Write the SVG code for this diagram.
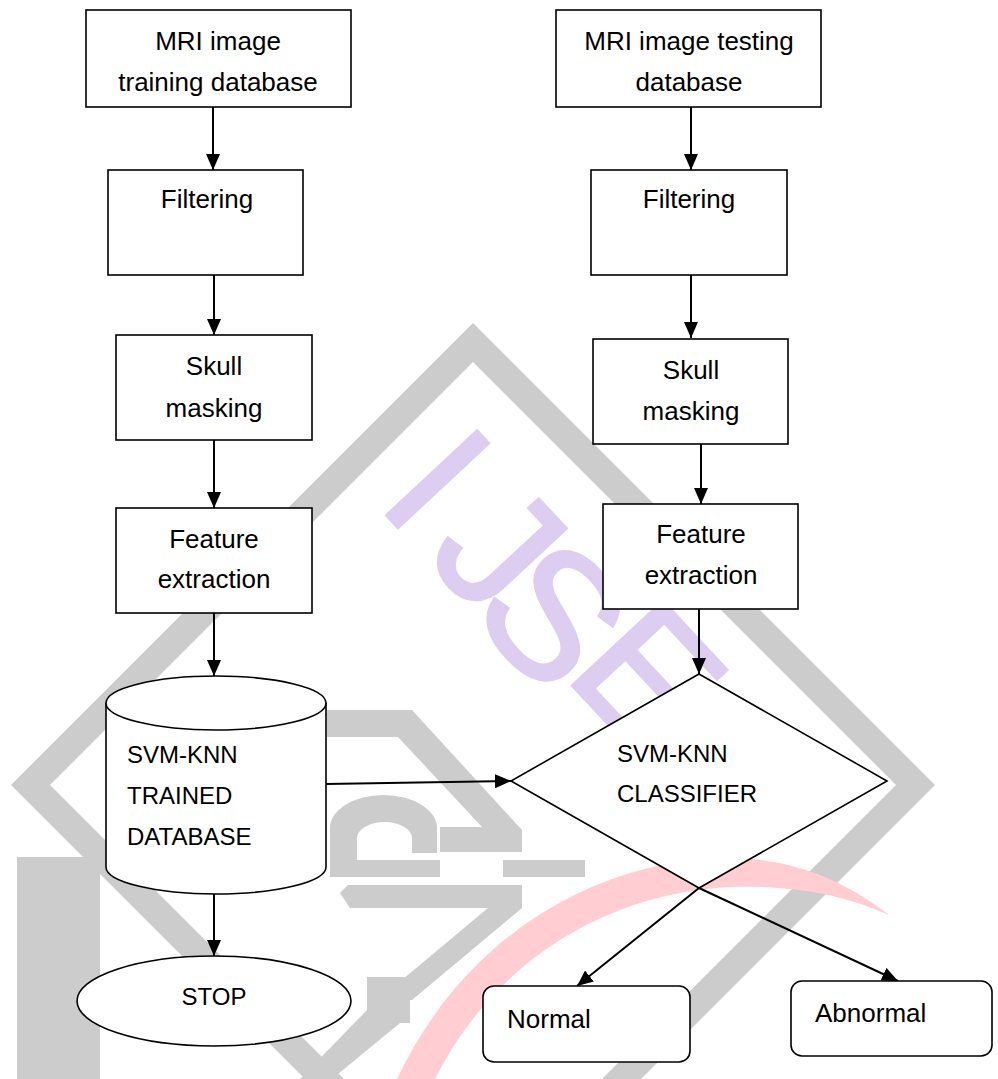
<svg xmlns="http://www.w3.org/2000/svg" width="998" height="1079" viewBox="0 0 998 1079">
<style>
.wg{fill:#cccccc;stroke:none}
.wp{fill:#ddcdf0;font-family:"Liberation Sans",Arial,sans-serif;font-size:180px;text-anchor:middle;stroke:#ddcdf0;stroke-width:3}
.box{fill:#ffffff;stroke:#000000;stroke-width:1.6}
.t{font-family:"Liberation Sans",Arial,sans-serif;font-size:26px;fill:#000000}
.tc{text-anchor:middle}
.u{font-size:24px}
.c{stroke:#000000;stroke-width:2;fill:none;marker-end:url(#ah)}
</style>
<defs>
<marker id="ah" markerUnits="userSpaceOnUse" markerWidth="16" markerHeight="14" refX="16" refY="7" orient="auto">
<path d="M0,0 L16,7 L0,14 Z" fill="#000000"/>
</marker>
</defs>
<rect x="0" y="0" width="998" height="1079" fill="#ffffff"/>
<g id="watermark">
<path class="wg" fill-rule="evenodd" d="M473,323 L935,785 L473,1247 L11,785 Z M473,362 L896,785 L473,1208 L50,785 Z"/>
<polygon class="wg" points="327,710 412,710 522,830 522,852 440,852 440,827 482,827 398,737 327,737"/>
<path class="wg" d="M330,860 L330,828 A53.5,33 0 0 1 437,828 L437,853 L412,853 L412,838 A27.5,16 0 0 0 357,838 L357,860 Z"/>
<rect class="wg" x="330" y="860" width="110" height="17"/>
<rect class="wg" x="503" y="860" width="82" height="17"/>
<polygon class="wg" points="340,893 348,885 522,885 522,908 350,908"/>
<polygon class="wg" points="488,908 522,908 412,1000 378,1000"/>
<rect class="wg" x="367" y="977" width="43" height="46"/>
<polygon class="wg" points="367,1010 400,1023 332,1079 300,1079"/>
<rect class="wg" x="17" y="857" width="83" height="222"/>
<path fill="#ffcdd2" d="M397,1079 C470,925 610,858 730,858 C800,859 850,885 889,915 C840,893 790,885 730,887 C620,892 500,950 435,1079 Z"/>
<text class="wp" transform="translate(439,478) rotate(47)" y="64">I</text>
<text class="wp" transform="translate(501,546) rotate(47)" y="64">J</text>
<text class="wp" transform="translate(555,613) rotate(47)" y="64">S</text>
<text class="wp" transform="translate(650,675) rotate(47)" y="64">E</text>
</g>
<g id="connectors">
<line class="c" x1="213" y1="107" x2="213" y2="170"/>
<line class="c" x1="691" y1="107" x2="691" y2="170"/>
<line class="c" x1="214" y1="275" x2="214" y2="335"/>
<line class="c" x1="691" y1="275" x2="691" y2="338"/>
<line class="c" x1="214" y1="440" x2="214" y2="508"/>
<line class="c" x1="701" y1="444" x2="701" y2="504"/>
<line class="c" x1="214" y1="613" x2="214" y2="676"/>
<line class="c" x1="699" y1="609" x2="699" y2="674"/>
<line class="c" x1="326" y1="784" x2="511" y2="781"/>
<line class="c" x1="214" y1="894" x2="214" y2="956"/>
<line class="c" x1="699" y1="888" x2="577" y2="986"/>
<line class="c" x1="699" y1="888" x2="898" y2="981"/>
</g>
<g id="train-db">
<rect class="box" x="86" y="10" width="265" height="97"/>
<text class="t tc" x="218" y="50">MRI image</text>
<text class="t tc" x="218" y="91">training database</text>
</g>
<g id="test-db">
<rect class="box" x="556" y="10" width="265" height="97"/>
<text class="t tc" x="689" y="50">MRI image testing</text>
<text class="t tc" x="689" y="91">database</text>
</g>
<g id="filter-train">
<rect class="box" x="108" y="170" width="195" height="105"/>
<text class="t tc" x="207" y="208">Filtering</text>
</g>
<g id="filter-test">
<rect class="box" x="591" y="170" width="196" height="105"/>
<text class="t tc" x="689" y="208">Filtering</text>
</g>
<g id="skull-train">
<rect class="box" x="116" y="335" width="196" height="105"/>
<text class="t tc" x="214" y="375">Skull</text>
<text class="t tc" x="214" y="417">masking</text>
</g>
<g id="skull-test">
<rect class="box" x="593" y="339" width="195" height="105"/>
<text class="t tc" x="691" y="379">Skull</text>
<text class="t tc" x="691" y="420">masking</text>
</g>
<g id="feature-train">
<rect class="box" x="116" y="508" width="196" height="105"/>
<text class="t tc" x="214" y="548">Feature</text>
<text class="t tc" x="214" y="588">extraction</text>
</g>
<g id="feature-test">
<rect class="box" x="603" y="504" width="195" height="105"/>
<text class="t tc" x="701" y="543">Feature</text>
<text class="t tc" x="701" y="584">extraction</text>
</g>
<g id="trained-db">
<path class="box" d="M106,703 A110,27 0 0 1 326,703 L326,867 A110,27 0 0 1 106,867 Z"/>
<path class="box" fill="none" d="M106,703 A110,27 0 0 0 326,703"/>
<text class="t u" x="127" y="763">SVM-KNN</text>
<text class="t u" x="127" y="804">TRAINED</text>
<text class="t u" x="127" y="845">DATABASE</text>
</g>
<g id="classifier">
<polygon class="box" points="699,674 887,781 699,888 511,781"/>
<text class="t u" x="617" y="762">SVM-KNN</text>
<text class="t u" x="617" y="802">CLASSIFIER</text>
</g>
<g id="stop">
<ellipse class="box" cx="214" cy="1001" rx="137" ry="45"/>
<text class="t u tc" x="214" y="1005">STOP</text>
</g>
<g id="normal">
<rect class="box" x="483" y="986" width="207" height="76" rx="11"/>
<text class="t" x="507" y="1028">Normal</text>
</g>
<g id="abnormal">
<rect class="box" x="791" y="981" width="201" height="75" rx="11"/>
<text class="t" x="815" y="1022">Abnormal</text>
</g>
</svg>
